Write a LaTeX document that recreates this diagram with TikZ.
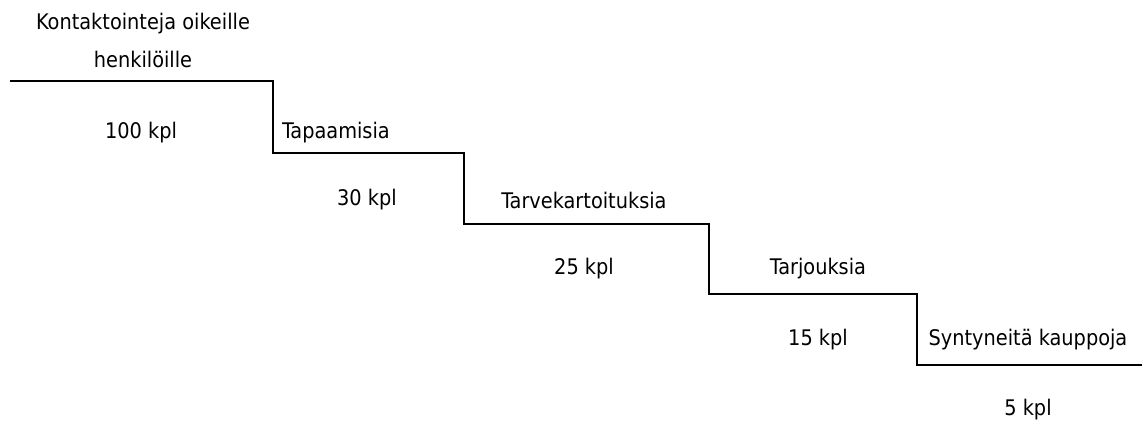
\documentclass[tikz,border=0pt]{standalone}
\usepackage{fontspec}
\setmainfont{DejaVu Sans Condensed}
\begin{document}
\begin{tikzpicture}[x=1pt,y=-1pt,
  lbl/.style={inner sep=0pt,font=\fontsize{21.5}{24}\selectfont},
  stair/.style={line width=2.2pt,line join=miter}]
\useasboundingbox (0,0) rectangle (1142,422);
\node[lbl] (t1a) at (143,24) {Kontaktointeja oikeille};
\node[lbl] (t1b) at (143,59) {henkilöille};
\node[lbl] (n1) at (141,133) {100 kpl};
\node[lbl] (t2) at (336,133) {Tapaamisia};
\node[lbl] (n2) at (367,200) {30 kpl};
\node[lbl] (t3) at (584,200) {Tarvekartoituksia};
\node[lbl] (n3) at (584,269) {25 kpl};
\node[lbl] (t4) at (818,269) {Tarjouksia};
\node[lbl] (n4) at (818,340) {15 kpl};
\node[lbl] (t5) at (1028,340) {Syntyneitä kauppoja};
\node[lbl] (n5) at (1028,410) {5 kpl};
\coordinate (s0) at (10,81);
\coordinate (s1) at (273,81);
\coordinate (s2) at (273,153);
\coordinate (s3) at (464,153);
\coordinate (s4) at (464,224);
\coordinate (s5) at (709,224);
\coordinate (s6) at (709,294);
\coordinate (s7) at (917,294);
\coordinate (s8) at (917,365);
\coordinate (s9) at (1142,365);
\draw[stair] (s0) -- (s1) -- (s2) -- (s3) -- (s4) -- (s5) -- (s6) -- (s7) -- (s8) -- (s9);
\end{tikzpicture}
\end{document}
